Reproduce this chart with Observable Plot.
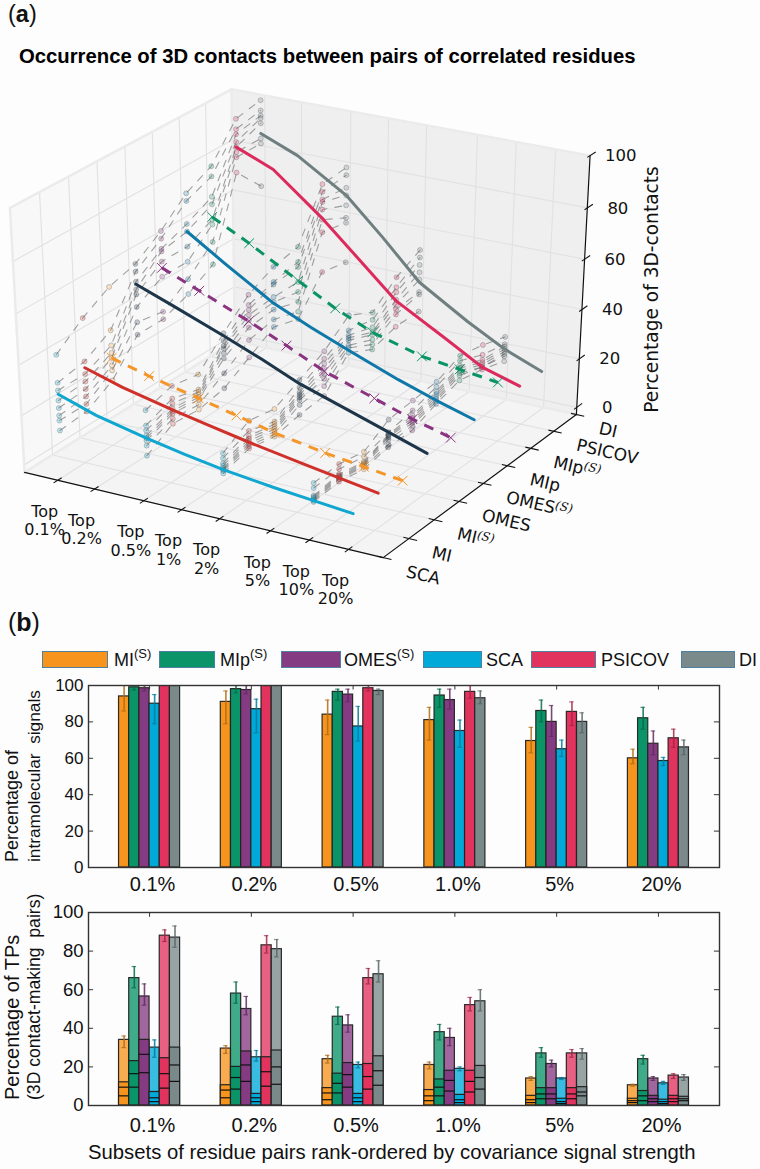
<!DOCTYPE html>
<html><head><meta charset="utf-8">
<script src="https://cdn.jsdelivr.net/npm/d3@7"></script>
<script src="https://cdn.jsdelivr.net/npm/@observablehq/plot@0.6"></script>
<style>
html,body{margin:0;padding:0;background:#fdfdfd;}
#page{position:relative;width:760px;height:1169px;overflow:hidden;font-family:"Liberation Sans",Arial,sans-serif;color:#111;}
#page svg{position:absolute;left:0;background:transparent;overflow:visible;}
.lab{position:absolute;white-space:nowrap;}
.sw{position:absolute;top:651px;height:15px;border:1.5px solid #4f80a0;}
.lg{position:absolute;top:650px;font-size:18px;line-height:20px;white-space:nowrap;}
.lg sup{font-size:13px;line-height:0;position:relative;top:-1px;vertical-align:super;}
</style></head>
<body><div id="page"></div>
<script>
// ---------- panel (a) data ----------
const topLabels = ["Top\n0.1%","Top\n0.2%","Top\n0.5%","Top\n1%","Top\n2%","Top\n5%","Top\n10%","Top\n20%"];
const topPercents = [0.1,0.2,0.5,1,2,5,10,20];
const methods3d = ["SCA","MI","MI(S)","OMES","OMES(S)","MIp","MIp(S)","PSICOV","DI"];
const colors3d = ["#0fa6cf","#d0302a","#f5962a","#1d3549","#8a3380","#0e78a8","#0a9463","#dd2a5c","#6f7f7f"];
const dashed3d = ["MI(S)","OMES(S)","MIp(S)"];
const zTicks = [0,20,40,60,80,100];
const meanSCA    = [30.5,25.5,21,18,15.5,13,11.5,10];
const meanMI     = [34.5,30,25.5,22.5,19.5,16,13.5,11];
const meanMIS    = [32,28,23.5,20,16.5,13,11,9];
const meanOMES   = [55,49.5,42,36,29.5,23,18,13];
const meanOMESS  = [55.5,49.5,41.5,35,28,21.5,16.5,12.5];
const meanMIp    = [64,54.5,42.5,36,30,22.5,17.5,13];
const meanMIpS   = [64,56.5,45.5,37.5,31,25.5,23.5,21.5];
const meanPSICOV = [86,80,64.5,51,37.5,26.5,18,13.5];
const meanDI     = [86,80,68,54,39,27,19,13];
const means3d = [meanSCA,meanMI,meanMIS,meanOMES,meanOMESS,meanMIp,meanMIpS,meanPSICOV,meanDI];
// individual family values: one row per method, at the subsets 0.1%, 0.5%, 2%, 10%
const scatterSubsets = [0.1,0.5,2,10];
const scatter01 = [[46,35,32,28,25,22,20,16],[54,37,32,29,26,23,20,17],[60,43,37,34,32,29,27,23],[63,60,56,53,51,46,40,35],[70,67,63,62,58,52,38,35],[79,76,67,64,58,52,45,39],[84,80,72,69,63,61,54,45],[97,93,91,88,86,84,82,76],[99,95,93,92,90,84,82,65]];
const scatter05 = [[32,26,24,22,21,20,18,14],[35,30,28,26,25,24,22,20],[33,27,26,25,24,23,21,19],[43,40,38,37,35,33,27,21],[52,48,46,44,42,39,34,27],[57,51,50,45,43,40,36,33],[59,53,51,45,41,37,33,30],[78,75,72,71,68,64,59,43],[79,76,71,68,64,59,57,41]];
const scatter2  = [[22,20,18,17,16,15.5,15,14],[28,24,22,21,20,19,18,17],[26,21,20,19,18,17,16,15],[31,28,26,25,24,23,21,17],[36,33,31,29,27,25,22,18],[44,38,36,35,34,32,31,29],[39,36,33,31,30,28,26,24],[47,43,41,38,36,34,32,27],[52,49,46,43,40,35,34,27]];
const scatter10 = [[18.5,16.5,13.5,13,12.5,12,11.5,11],[19,17,15,14.5,14,13.5,13,12],[17,15,13,12.5,12,11.5,11,10],[23,18,17,16.5,16,15,13,12],[24,20,18,17,16,15,14,12],[25,23,21,20,19,18,17,16],[29,27,25,24,23,22,21,19],[27,23,21,20,19,18,18,17],[24,21,20,19,18,17,16,14]];
const scatterTables = [scatter01,scatter05,scatter2,scatter10];

// ---------- panel (b) data ----------
const subsets = ["0.1%","0.2%","0.5%","1.0%","5%","20%"];
const barMethods = ["MI(S)","MIp(S)","OMES(S)","SCA","PSICOV","DI"];
const barColors = ["#f7941d","#0a9467","#853b82","#00a9d8","#e2335f","#7a8a8a"];
const intraValues = [[94,91,84,81,69.5,60],[99,98,96.5,94.5,86,82],[98.5,97.5,95,92,80,68],[90,87,77.5,75,65,58.5],[100,100,98.5,96.5,85.5,71],[100,100,97,93,80,66]];
const intraLow    = [[86,79,73,70,63,57],[97.5,96,92,88,80,76],[97,95.5,91,87,72,62],[79,74,69.5,66,61,56],[100,100,97,93,78,66],[100,100,95,90,74,62]];
const intraHigh   = [[100,97,92,88,77,65],[100,100,98,98,92,88],[100,100,98,98,89,75],[95,92.5,88.5,81,70,60.5],[100,100,100,100,91,76],[100,100,98,97,85,70]];
const tpValues = [[34,29.5,24,21,14,10.5],[66,58,46,38,27,24],[56.5,50,41.5,35,21.5,14],[30,25,21,19,14,11.5],[88,83,66,52,27,15.5],[87,81,68,54,27,14.5]];
const tpLow    = [[30,27,22,19,13,10],[61,53,42,34,25,21.5],[52,47,38,31,20,13],[25,23,19.5,18,13.5,11],[85,79,63,49,25,14],[82,77,64,49,24,13]];
const tpHigh   = [[36,31,26,22.5,15,11],[72,64,51,42,30,26],[63,56.5,47,40,23.5,15],[34,28.5,22.5,20,14.5,12.5],[91,88,71,56,29,16.5],[93,86,75,60,29.5,16]];
const tpLevel1 = [[5,4,3,2.5,1.5,1.5],[9.5,8.5,6.5,5,3.5,2.5],[17,12.5,9.5,7.5,3.5,2],[2,2,2,1.5,1,1],[9,10,8.5,7,3.5,2],[12.5,11,10.5,8.5,5,2.5]];
const tpLevel2 = [[9.5,8,6.5,5,3,2.5],[16.5,14.5,11.5,9.5,6,5],[26.5,21,16,13,6,3.5],[4,4,4,3,2,2],[16.5,17.5,15,12.5,6,3.5],[21,20,18,14.5,7,3.5]];
const tpLevel3 = [[12,10.5,9,8,5,3.5],[23,20,16.5,13.5,9,7.5],[34,28,22,18,9,5],[7,6,6,5.5,3.5,3],[24.5,25,21.5,18,9,5],[30,28.5,25.5,20.5,9.5,4.5]];

// ---------- camera of the 3D box ----------
const rad = Math.PI/180, az=-60*rad, el=30*rad, dist=10;
const n=[Math.cos(el)*Math.cos(az),Math.cos(el)*Math.sin(az),Math.sin(el)];
const ul=Math.hypot(n[1],n[0]); const u=[-n[1]/ul,n[0]/ul,0];
const v=[n[1]*u[2]-n[2]*u[1],n[2]*u[0]-n[0]*u[2],n[0]*u[1]-n[1]*u[0]];
const dot3=(a,b)=>a[0]*b[0]+a[1]*b[1]+a[2]*b[2];
function cam(fx,fy,fz){const c=[fx-.5,fy-.5,fz-.5];const w=dist-dot3(c,n);return {px:dot3(c,u)/w,py:dot3(c,v)/w};}
const xf=p=>0.096+0.3526*(Math.log10(p)+1);
const yf=i=>i/8;
const yd=i=>0.02+0.12*i;
const zf=z=>(z+3)/103;
const at=(p,i,z)=>cam(xf(p),yd(i),zf(z));

// ---------- panes, grid ----------
const poly=(pts)=>pts.map(([a,b,c])=>cam(a,b,c));
const paneLeft=poly([[0,0,0],[0,1,0],[0,1,1],[0,0,1]]);
const paneBack=poly([[0,1,0],[1,1,0],[1,1,1],[0,1,1]]);
const paneFloor=poly([[0,0,0],[1,0,0],[1,1,0],[0,1,0]]);
const grid=[];
const addSeg=(a,b)=>{const k=grid.length;grid.push({...cam(...a),k},{...cam(...b),k});};
topPercents.forEach(p=>{addSeg([xf(p),0,0],[xf(p),1,0]);addSeg([xf(p),1,0],[xf(p),1,1]);});
methods3d.forEach((m,i)=>{addSeg([0,yf(i),0],[1,yf(i),0]);addSeg([0,yf(i),0],[0,yf(i),1]);});
zTicks.forEach(z=>{addSeg([0,0,zf(z)],[0,1,zf(z)]);addSeg([0,1,zf(z)],[1,1,zf(z)]);});
const rim=[];
const addRim=(a,b)=>{const k=rim.length;rim.push({...cam(...a),k},{...cam(...b),k});};
addRim([0,0,1],[0,1,1]);addRim([0,1,1],[1,1,1]);addRim([0,1,0],[0,1,1]);addRim([0,0,0],[0,0,1]);addRim([0,1,0],[1,1,0]);addRim([0,0,0],[0,1,0]);

// ---------- records ----------
const lineRows=methods3d.flatMap((m,i)=>topPercents.map((p,j)=>({m,...at(p,i,means3d[i][j])})));
const scatterRows=scatterSubsets.flatMap((p,s)=>methods3d.flatMap((m,i)=>scatterTables[s][i].map((z,f)=>({m,f:s+"-"+f,...at(p,i,z)}))));
const xTickRows=topPercents.map((p,j)=>({label:topLabels[j],a:cam(xf(p),-.018,0),b:cam(xf(p),.018,0)}));
const yTickRows=methods3d.map((m,i)=>({label:m,a:cam(.985,yf(i),0),b:cam(1.022,yf(i),0)}));
const zTickRows=zTicks.map(z=>({label:String(z),a:cam(1,.985,zf(z)),b:cam(1,1.03,zf(z))}));
const axisLines=[{...cam(0,0,0),k:0},{...cam(1,0,0),k:0},{...cam(1,0,0),k:1},{...cam(1,1,0),k:1},{...cam(1,1,0),k:2},{...cam(1,1,1),k:2}];
const tickMarks=(rows,o={})=>Plot.link(rows,{x1:d=>d.a.px,y1:d=>d.a.py,x2:d=>d.b.px,y2:d=>d.b.py,stroke:"#111",strokeWidth:1.1,...o});

const page=document.getElementById("page");
function place(svg,top){svg.style.top=top+"px";page.appendChild(svg);return svg;}
function superS(svg,size){
  d3.select(svg).selectAll("text").each(function(){
    const s=this.textContent;
    if(s.endsWith("(S)")){
      const t=d3.select(this).text(null);
      t.append("tspan").text(s.slice(0,-3));
      t.append("tspan").attr("dy","-0.4em").attr("font-size",size).attr("font-family","DejaVu Serif, Liberation Serif, serif").attr("font-style","italic").text("(S)");
    }
  });
}
const paneMark=(pts,fill)=>Plot.line(pts,{x:"px",y:"py",fill,stroke:"none"});
const chart3d=Plot.plot({
  width:760,height:610,margin:0,
  x:{domain:[-0.0735,0.1101],range:[0,760],axis:null},
  y:{domain:[0.1043,-0.0977],range:[0,610],axis:null},
  color:{domain:methods3d,range:colors3d},
  style:{background:"transparent",fontFamily:"DejaVu Sans",color:"#111"},
  marks:[
    paneMark(paneLeft,"#f8f8f8"),
    paneMark(paneBack,"#efeff0"),
    paneMark(paneFloor,"#f4f4f5"),
    Plot.line(grid,{x:"px",y:"py",z:"k",stroke:"#e1e1e3",strokeWidth:1.1}),
    Plot.line(rim,{x:"px",y:"py",z:"k",stroke:"#ebebec",strokeWidth:2.5}),
    Plot.line(scatterRows,{x:"px",y:"py",z:"f",stroke:"#666",strokeOpacity:.6,strokeWidth:1.1,strokeDasharray:"7 8"}),
    Plot.dot(scatterRows,{x:"px",y:"py",r:2.5,fill:"m",fillOpacity:.25,stroke:"#444",strokeOpacity:.35,strokeWidth:.8}),
    ...methods3d.map((m,i)=>Plot.line(lineRows.filter(d=>d.m===m),{x:"px",y:"py",stroke:colors3d[i],strokeWidth:3,strokeLinecap:dashed3d.includes(m)?"butt":"round",strokeDasharray:dashed3d.includes(m)?"10 8":null})),
    ...dashed3d.map(m=>Plot.dot(lineRows.filter(d=>d.m===m),{x:"px",y:"py",symbol:"times",r:4.5,stroke:"m",strokeWidth:1})),
    Plot.line(axisLines,{x:"px",y:"py",z:"k",stroke:"#111",strokeWidth:1.2}),
    tickMarks(xTickRows),tickMarks(yTickRows),tickMarks(zTickRows),
    Plot.text(xTickRows,{x:d=>(d.a.px+d.b.px)/2,y:d=>(d.a.py+d.b.py)/2,text:"label",dx:-13,dy:40,fontSize:16,lineHeight:1.15,fill:"#111"}),
    Plot.text(yTickRows,{x:d=>d.b.px,y:d=>d.b.py,text:"label",dx:15,dy:12,rotate:13,textAnchor:"start",fontSize:17,fill:"#111"}),
    Plot.text(zTickRows,{x:d=>d.b.px,y:d=>d.b.py,text:"label",dx:25,dy:4,fontSize:16.5,fill:"#111"}),
    Plot.text(["Percentage of 3D-contacts"],{x:()=>(652-304.3)/4140,y:()=>(315-289)/3020,text:d=>d,rotate:-90,fontSize:18.6,fill:"#111"})
  ]
});
superS(chart3d,"12px");
place(chart3d,0);

// ---------- bar charts ----------
const xOf=(g,b)=>g+(b-2.5)*0.1;
const rowsFrom=(vals,lo,hi,extra)=>barMethods.flatMap((m,b)=>subsets.map((s,g)=>({m,b,g,x:xOf(g,b),v:vals[b][g],lo:lo[b][g],hi:hi[b][g],...(extra?extra(b,g):{})})));
const yTicksBar=[0,20,40,60,80,100];
function barPlot(rows,extraMarks,h,mt,mb,upperOpacity,yFont,xFont,xPad){
  const darker=barColors.map(c=>d3.color(c).darker(.9).formatHex());
  return Plot.plot({
    width:760,height:h,marginLeft:88,marginRight:41,marginTop:mt,marginBottom:mb,
    x:{domain:[-0.6,5.6],axis:null},
    y:{domain:[0,100],axis:null},
    color:{domain:barMethods,range:barColors},
    style:{background:"transparent",fontFamily:"Liberation Sans",color:"#111"},
    marks:[
      Plot.rectY(rows,{x1:d=>d.x-.05,x2:d=>d.x+.05,y1:0,y2:"v",fill:"m",fillOpacity:upperOpacity,stroke:"#222",strokeOpacity:.95,strokeWidth:1.2,clip:true}),
      ...extraMarks,
      ...barMethods.map((m,b)=>{const r=rows.filter(d=>d.b===b);return [
        Plot.ruleX(r,{x:"x",y1:"lo",y2:"hi",stroke:darker[b],strokeWidth:1.6,strokeOpacity:.85,clip:true}),
        Plot.ruleY(r,{y:"hi",x1:d=>d.x-.022,x2:d=>d.x+.022,stroke:darker[b],strokeWidth:1.2,strokeOpacity:.7,clip:true}),
        Plot.ruleY(r,{y:"lo",x1:d=>d.x-.022,x2:d=>d.x+.022,stroke:darker[b],strokeWidth:1.2,strokeOpacity:.85,clip:true})
      ];}),
      Plot.ruleX(d3.range(subsets.length),{x:d=>d,y1:100,y2:97.5,stroke:"#333"}),
      Plot.ruleY(yTicksBar,{y:d=>d,x1:5.6,x2:5.55,stroke:"#333"}),
      Plot.ruleY(yTicksBar,{y:d=>d,x1:-.6,x2:-.55,stroke:"#333"}),
      Plot.frame({stroke:"#333",strokeWidth:1.4}),
      Plot.axisY({ticks:yTicksBar,tickSize:0,tickPadding:5,fontSize:yFont,label:null,fill:"#111"}),
      Plot.axisX({ticks:d3.range(subsets.length),tickFormat:i=>subsets[i],tickSize:0,tickPadding:xPad,fontSize:xFont,label:null,fill:"#111",dx:3}),
    ]
  });
}
const intraRows=rowsFrom(intraValues,intraLow,intraHigh);
const tpRows=rowsFrom(tpValues,tpLow,tpHigh,(b,g)=>({l1:tpLevel1[b][g],l2:tpLevel2[b][g],l3:tpLevel3[b][g]}));
place(barPlot(intraRows,[],222,10,30,1,17,20,9),675);
const tpExtra=[
  Plot.rectY(tpRows,{x1:d=>d.x-.05,x2:d=>d.x+.05,y1:0,y2:"l3",fill:"m",stroke:"#222",strokeWidth:1.2}),
  ...["l1","l2"].map(k=>Plot.ruleY(tpRows,{y:k,x1:d=>d.x-.05,x2:d=>d.x+.05,stroke:"#111",strokeWidth:1.2}))
];
place(barPlot(tpRows,tpExtra,235,10,32,.78,18.5,20,12),902);

// ---------- real text around the charts ----------
function label(html,css){const d=document.createElement("div");d.className="lab";d.innerHTML=html;Object.assign(d.style,css);page.appendChild(d);return d;}
label('(<b>a</b>)',{left:"8px",top:"0px",fontSize:"23.5px",lineHeight:"28px"});
label('(<b>b</b>)',{left:"8px",top:"611px",fontSize:"25px",lineHeight:"23px"});
label('Occurrence of 3D contacts between pairs of correlated residues',{left:"19px",top:"45px",fontSize:"20.3px",fontWeight:"bold",color:"#000"});
const rot=(t,x,y,fs)=>label(t,{left:x+"px",top:y+"px",fontSize:fs+"px",transformOrigin:"0 0",transform:"rotate(-90deg)",lineHeight:"1"});
rot("Percentage of",3,862,18);
rot("intramolecular&nbsp; signals",26,862,17.3);
rot("Percentage of TPs",2,1100,20);
rot("(3D contact-making&nbsp; pairs)",26,1100,17.6);
label("Subsets of residue pairs rank-ordered by covariance signal strength",{left:"88px",top:"1141px",fontSize:"20.3px"});
const legendItems=[["MI<sup>(S)</sup>",42,109,114],["MIp<sup>(S)</sup>",159,216,220],["OMES<sup>(S)</sup>",281,342,344],["SCA",423,483,486],["PSICOV",531,597,601],["DI",681,736,739]];
legendItems.forEach(([t,a,b,tx],i)=>{
  const s=document.createElement("div");s.className="sw";s.style.left=a+"px";s.style.width=(b-a-3)+"px";s.style.background=barColors[i];page.appendChild(s);
  const l=document.createElement("div");l.className="lg";l.style.left=tx+"px";l.innerHTML=t;page.appendChild(l);
});
</script></body></html>
